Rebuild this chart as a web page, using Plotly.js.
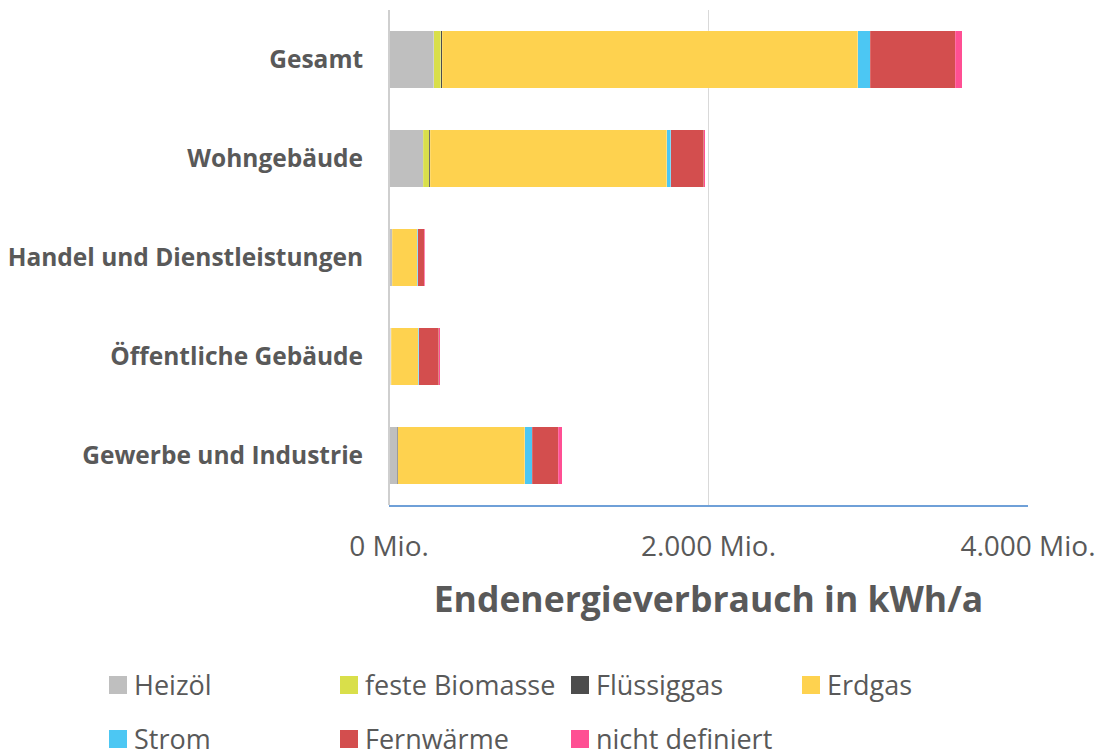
<!DOCTYPE html>
<html>
<head>
<meta charset="utf-8">
<script src="https://cdn.plot.ly/plotly-3.0.1.min.js"></script>
<style>html,body{margin:0;padding:0;background:#fff;}#chart{width:1102px;height:756px;}</style>
</head>
<body>
<div id="chart"></div>
<script>
// ---- data (Mio. kWh/a) ----
const categories = ['Gesamt', 'Wohngebäude', 'Handel und Dienstleistungen', 'Öffentliche Gebäude', 'Gewerbe und Industrie'];
const seriesNames = ['Heizöl', 'feste Biomasse', 'Flüssiggas', 'Erdgas', 'Strom', 'Fernwärme', 'nicht definiert'];
const heizoel       = [280, 215, 19, 12, 52];
const biomasse      = [44, 38, 0, 0, 0];
const fluessiggas   = [10, 5, 1, 1, 2];
const erdgas        = [2600, 1482, 158, 171, 795];
const strom         = [77, 25, 1, 1, 48];
const fernwaerme    = [535, 205, 42, 125, 161];
const nichtDefiniert= [43, 10, 3, 10, 25];
const xTickVals  = [0, 2000, 4000];
const xTickText  = ['0 Mio.', '2.000 Mio.', '4.000 Mio.'];
const axisTitle  = 'Endenergieverbrauch in kWh/a';

const seriesValues = [heizoel, biomasse, fluessiggas, erdgas, strom, fernwaerme, nichtDefiniert];
const colors = ['#bfbfbf', '#d9df4a', '#4d4d4d', '#fed24f', '#4cc7f3', '#d34e4e', '#ff4f93'];

const FONT = '"Open Sans", "Noto Sans", sans-serif';
const TXT = '#595959';

const traces = seriesNames.map((n, i) => ({
  type: 'bar', orientation: 'h', name: n,
  y: categories, x: seriesValues[i],
  marker: {color: colors[i], line: {color: 'rgba(255,255,255,0.35)', width: 0.5}},
  hoverinfo: 'x+name'
}));

// plot area in pixels
const L = 389, R = 1028, T = 10, B = 505, W = 1102, H = 756;
const px = x => (x - L) / (R - L);
const py = y => (B - y) / (B - T);

const shapes = [];
const annotations = [];
seriesNames.forEach((n, i) => {
  const col = i % 4, row = Math.floor(i / 4);
  const x0 = 109 + 231 * col;
  const yc = 685 + 54 * row;
  shapes.push({type: 'rect', xref: 'paper', yref: 'paper',
    x0: px(x0), x1: px(x0 + 18), y0: py(yc + 9), y1: py(yc - 9),
    fillcolor: colors[i], line: {width: 0}});
  annotations.push({xref: 'paper', yref: 'paper', x: px(x0 + 24), y: py(yc - 1),
    xanchor: 'left', yanchor: 'middle', showarrow: false, text: n,
    borderpad: 0,
    font: {family: FONT, size: 27, color: TXT}});
});

const layout = {
  width: W, height: H,
  margin: {l: L, r: W - R, t: T, b: H - B},
  paper_bgcolor: '#fff', plot_bgcolor: '#fff',
  barmode: 'stack', bargap: 0.42,
  showlegend: false,
  font: {family: FONT, color: TXT},
  xaxis: {
    range: [0, 4000], tickvals: xTickVals, ticktext: xTickText,
    showgrid: true, gridcolor: '#d9d9d9', gridwidth: 1.5,
    zeroline: false,
    showline: true, linecolor: '#6fa0d8', linewidth: 1.5,
    ticks: 'outside', ticklen: 16, tickcolor: 'rgba(0,0,0,0)',
    tickfont: {family: FONT, size: 28, color: TXT},
    title: {text: axisTitle, font: {family: FONT, size: 35.5, color: TXT, weight: 'bold'}, standoff: 24},
    fixedrange: true
  },
  yaxis: {
    type: 'category', autorange: 'reversed',
    showgrid: false, zeroline: false,
    showline: false,
    ticks: 'outside', ticklen: 20, tickcolor: 'rgba(0,0,0,0)',
    tickfont: {family: FONT, size: 24.5, color: TXT, weight: 'bold'},
    fixedrange: true
  },
  shapes: shapes.concat([{type: 'line', xref: 'paper', yref: 'paper', x0: 0, x1: 0, y0: 0, y1: 1,
    line: {color: '#cfcfcf', width: 2}}]),
  annotations: annotations
};

Plotly.newPlot('chart', traces, layout, {displayModeBar: false, staticPlot: true});
</script>
</body>
</html>
